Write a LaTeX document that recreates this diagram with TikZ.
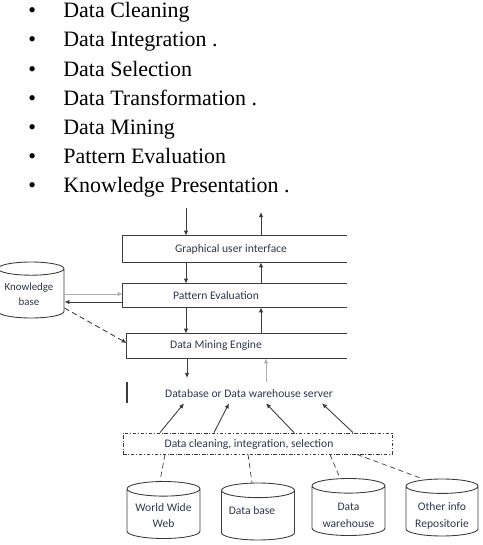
\documentclass[tikz,border=0pt]{standalone}
\usepackage{fontspec}
\setmainfont{Liberation Serif}
\newfontfamily\diagfont{Carlito}
\usetikzlibrary{shapes.geometric, arrows.meta, positioning}
\definecolor{ink}{RGB}{45,55,75}
\definecolor{edge}{RGB}{60,60,60}
\definecolor{faint}{RGB}{175,175,175}

\begin{document}
\begin{tikzpicture}[
    x=0.02cm, y=-0.02cm,
    item/.style={anchor=west, inner sep=0pt, text height=1.6ex, text depth=0.4ex, font=\fontsize{12.5}{15}\selectfont},
    layer/.style={rectangle, inner sep=0pt, minimum width=4.48cm},
    lbl/.style={text=ink, font=\diagfont\fontsize{6.6}{7.5}\selectfont, inner sep=1pt},
    store/.style={cylinder, shape border rotate=90, draw=edge, line width=0.5pt, aspect=0.2, minimum height=1.14cm, inner sep=0pt, anchor=shape center},
    storetext/.style={lbl, align=center, font=\diagfont\fontsize{6.6}{9.6}\selectfont},
    arrow/.style={-{Latex[length=1mm,width=0.9mm]}, draw=edge, line width=0.5pt},
    link/.style={draw=edge, line width=0.4pt, densely dashed}
]
\useasboundingbox (0,0) rectangle (483,545);

% steps of the process
\node[item] (itemclean) at (28,13) {\makebox[0.7cm][l]{\textbullet}Data Cleaning};
\node[item, below=0.583cm of itemclean.west, anchor=west] (itemint) {\makebox[0.7cm][l]{\textbullet}Data Integration .};
\node[item, below=0.583cm of itemint.west, anchor=west] (itemsel) {\makebox[0.7cm][l]{\textbullet}Data Selection};
\node[item, below=0.583cm of itemsel.west, anchor=west] (itemtrans) {\makebox[0.7cm][l]{\textbullet}Data Transformation .};
\node[item, below=0.583cm of itemtrans.west, anchor=west] (itemmine) {\makebox[0.7cm][l]{\textbullet}Data Mining};
\node[item, below=0.583cm of itemmine.west, anchor=west] (itemeval) {\makebox[0.7cm][l]{\textbullet}Pattern Evaluation};
\node[item, below=0.583cm of itemeval.west, anchor=west] (itempres) {\makebox[0.7cm][l]{\textbullet}Knowledge Presentation .};

% layers
\node[layer, minimum height=0.52cm] (gui) at (235,249) {};
\node[lbl] (guitext) at (231,249) {Graphical user interface};
\node[layer, minimum height=0.46cm] (pe) at (235,295.5) {};
\node[lbl] (petext) at (216,296) {Pattern Evaluation};
\node[layer, minimum width=4.4cm, minimum height=0.48cm] (dme) at (237,346) {};
\node[lbl] (dmetext) at (216,346) {Data Mining Engine};

\draw[edge, line width=0.6pt] (gui.north east) -- (gui.north west) -- (gui.south west) -- (gui.south east);
\draw[edge, line width=0.6pt] (pe.north east) -- (pe.north west) -- (pe.south west) -- (pe.south east);
\draw[edge, line width=0.6pt] (dme.north east) -- (dme.north west) -- (dme.south west) -- (dme.south east);

\coordinate (dn) at (186,0);
\coordinate (up) at (261,0);
\coordinate (userin) at (186,208);
\coordinate (userout) at (261,212);
\coordinate (minedown) at (187,378);
\coordinate (serverup) at (266,382);

\draw[arrow] (userin) -- (gui.north -| userin);
\draw[arrow] (gui.north -| userout) -- (userout);
\draw[arrow] (gui.south -| dn) -- (pe.north -| dn);
\draw[arrow] (pe.north -| up) -- (gui.south -| up);
\draw[arrow] (pe.south -| dn) -- (dme.north -| dn);
\draw[arrow] (dme.north -| up) -- (pe.south -| up);
\draw[arrow] (dme.south -| minedown) -- (minedown);
\draw[arrow, draw=faint] (serverup) -- (dme.south -| serverup);

% knowledge base
\node[store, minimum height=1.12cm] (kb) at (31,290) {\hspace*{1.32cm}};
\node[storetext, font=\diagfont\fontsize{6.2}{8.5}\selectfont] (kbtext) at (29,294.5) {Knowledge\\base};
\draw[arrow, draw=faint] (kb.east |- 0,294) -- (pe.west |- 0,294);
\draw[arrow] (pe.west |- 0,302) -- (kb.east |- 0,302);
\draw[arrow, densely dashed] (kb.east |- 0,308) -- (dme.west |- 0,343);

% server and preprocessing
\node[lbl, minimum height=0.36cm] (server) at (249,394) {Database or Data warehouse server};
\draw[edge, line width=0.6pt] (127,382) -- (127,403);
\node[draw=edge, line width=0.5pt, dash pattern=on 2pt off 1pt on 0.5pt off 1pt, minimum width=5.38cm, minimum height=0.42cm, inner sep=0pt] (prep) at (257.5,443.5) {};
\node[lbl] (preptext) at (249,444) {Data cleaning, integration, selection};

\draw[arrow] (prep.north -| 160,0) -- (server.south -| 184,0);
\draw[arrow] (prep.north -| 214,0) -- (server.south -| 229,0);
\draw[arrow] (prep.north -| 294,0) -- (server.south -| 266,0);
\draw[arrow] (prep.north -| 353,0) -- (server.south -| 322,0);

% sources
\node[store] (www) at (163.5,510) {\hspace*{1.46cm}};
\node[storetext] (wwwtext) at (163.5,515.5) {World Wide\\Web};
\node[store] (dbase) at (258,511.5) {\hspace*{1.46cm}};
\node[storetext] (dbasetext) at (252,511) {Data base};
\node[store] (dwh) at (348.5,507) {\hspace*{1.46cm}};
\node[storetext] (dwhtext) at (348.5,515.5) {Data\\warehouse};
\node[store] (repo) at (442,507.5) {\hspace*{1.44cm}};
\node[storetext] (repotext) at (442,515.5) {Other info\\Repositorie};

\draw[link] (prep.south -| 165,0) -- (www.north -| 160,0);
\draw[link] (prep.south -| 248,0) -- (dbase.north -| 252,0);
\draw[link] (prep.south -| 330,0) -- (dwh.north -| 340,0);
\draw[link] (prep.south -| 357,0) -- (repo.north -| 422,0);
\end{tikzpicture}
\end{document}
